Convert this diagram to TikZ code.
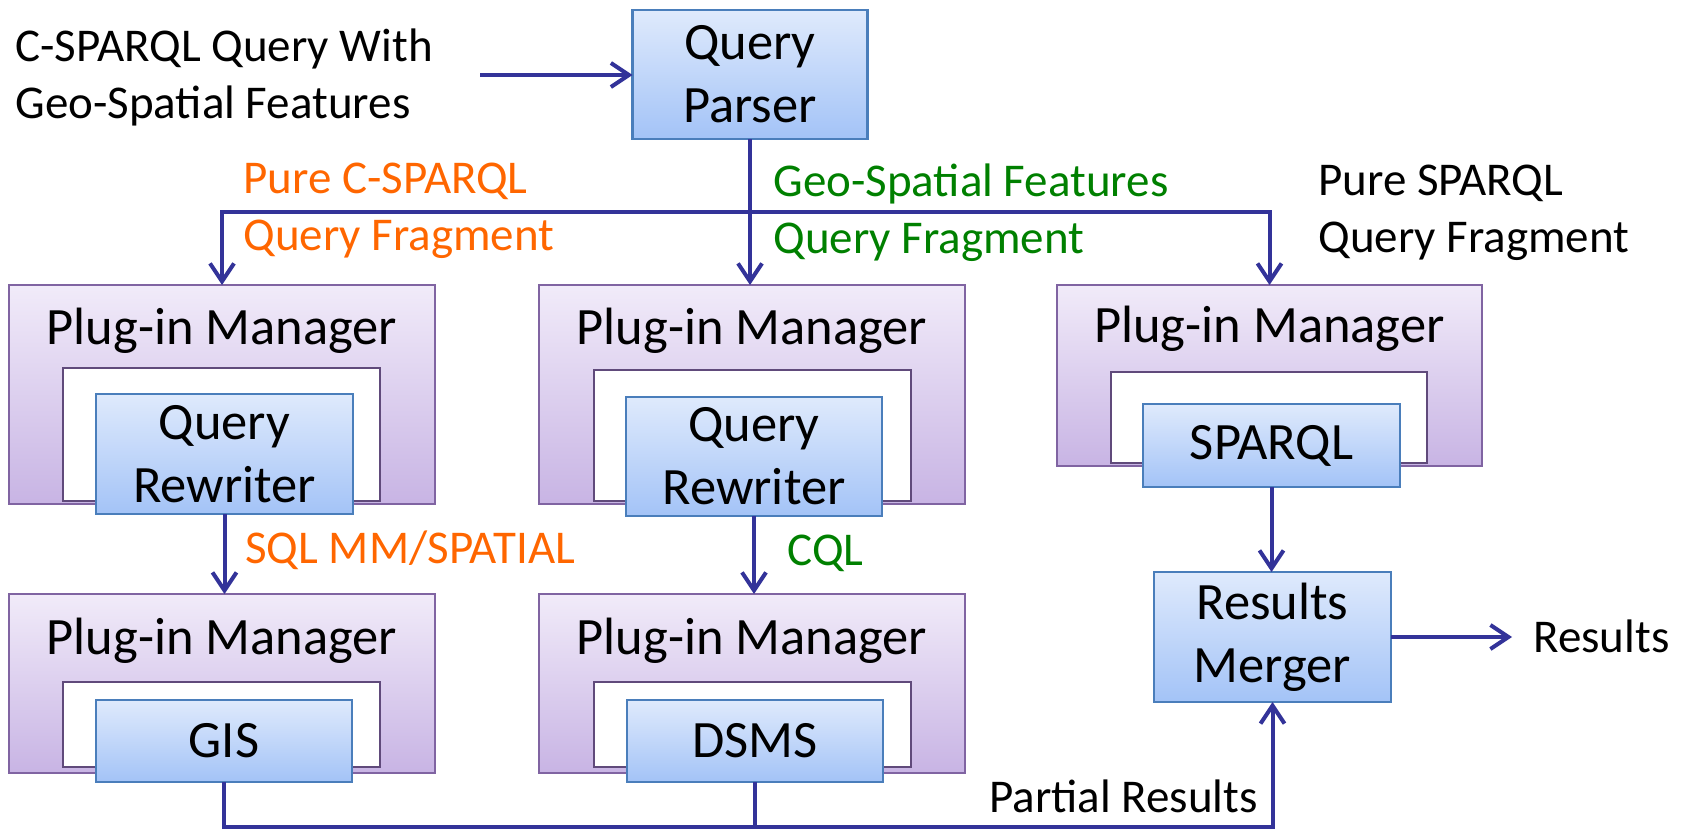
\documentclass[tikz,border=0pt]{standalone}
\usepackage{fontspec}
\setmainfont{Carlito}
\usetikzlibrary{arrows.meta}
\definecolor{arrowc}{RGB}{51,51,153}
\definecolor{blueTop}{RGB}{223,234,252}
\definecolor{blueBot}{RGB}{163,195,247}
\definecolor{blueBorder}{RGB}{74,126,187}
\definecolor{pmTop}{RGB}{241,235,249}
\definecolor{pmBot}{RGB}{200,180,228}
\definecolor{pmBorder}{RGB}{128,100,162}
\definecolor{frameBorder}{RGB}{96,74,123}
\definecolor{orangec}{RGB}{255,102,0}
\definecolor{greenc}{RGB}{0,128,0}
\begin{document}
\begin{tikzpicture}[x=0.5pt,y=-0.5pt,
  boxtxt/.style={font=\fontsize{26.25pt}{31.5pt}\selectfont, align=center},
  lbl/.style={font=\fontsize{23.5pt}{28.5pt}\selectfont, align=left, inner sep=0pt},
  bluebox/.style 2 args={draw=blueBorder, line width=1.2pt, top color=blueTop, bottom color=blueBot,
    minimum width=#1*0.5pt, minimum height=#2*0.5pt, inner sep=0pt, outer sep=0pt, boxtxt},
  pmbox/.style 2 args={draw=pmBorder, line width=1pt, top color=pmTop, bottom color=pmBot,
    minimum width=#1*0.5pt, minimum height=#2*0.5pt, inner sep=0pt, outer sep=0pt},
  innerframe/.style 2 args={draw=frameBorder, line width=1.3pt, fill=white,
    minimum width=#1*0.5pt, minimum height=#2*0.5pt, inner sep=0pt, outer sep=0pt},
  conn/.style={draw=arrowc, line width=2pt},
  arr/.style={draw=arrowc, line width=2pt, -{Straight Barb[length=9pt,width=12pt]}}
]
\useasboundingbox (0,0) rectangle (1685,830);

% Query parser
\node[bluebox={235}{129}] (parser) at (750,74.5) {Query\\Parser};

% Row 1
\node[pmbox={426}{219}] (pm1l) at (222,394.5) {};
\node[innerframe={317}{133}] (fr1l) at (221.5,434.5) {};
\node[bluebox={257}{120}] (qr1l) at (224.5,454) {Query\\Rewriter};
\node[boxtxt, anchor=base] (pm1lt) at (222,344) {Plug-in Manager};

\node[pmbox={426}{219}] (pm1m) at (752,394.5) {};
\node[innerframe={317}{131}] (fr1m) at (752.5,435.5) {};
\node[bluebox={256}{119}] (qr1m) at (754,456.5) {Query\\Rewriter};
\node[boxtxt, anchor=base] (pm1mt) at (752,344) {Plug-in Manager};

\node[pmbox={425}{181}] (pm1r) at (1269.5,375.5) {};
\node[innerframe={316}{91}] (fr1r) at (1269,417.5) {};
\node[bluebox={257}{83}] (sparql) at (1271.5,445.5) {SPARQL};
\node[boxtxt, anchor=base] (pm1rt) at (1269.5,342) {Plug-in Manager};

% Row 2
\node[pmbox={426}{179}] (pm2l) at (222,683.5) {};
\node[innerframe={317}{85}] (fr2l) at (221.5,724.5) {};
\node[bluebox={256}{82}] (gis) at (224,741) {GIS};
\node[boxtxt, anchor=base] (pm2lt) at (222,654) {Plug-in Manager};

\node[pmbox={426}{179}] (pm2m) at (752,683.5) {};
\node[innerframe={317}{85}] (fr2m) at (752.5,724.5) {};
\node[bluebox={256}{82}] (dsms) at (755,741) {DSMS};
\node[boxtxt, anchor=base] (pm2mt) at (752,654) {Plug-in Manager};

% Results merger
\node[bluebox={237}{130}] (rm) at (1272.5,637) {Results\\Merger};

% Labels (base anchor = baseline of the last line)
\node[lbl, anchor=base west] (input) at (15,118) {C-SPARQL Query With\\Geo-Spatial Features};
\node[lbl, text=orangec, anchor=base west] (lblpure) at (243,250) {Pure C-SPARQL\\Query Fragment};
\node[lbl, text=greenc, anchor=base west] (lblgeo) at (773,253) {Geo-Spatial Features\\Query Fragment};
\node[lbl, anchor=base west] (lblsparql) at (1318,252) {Pure SPARQL\\Query Fragment};
\node[lbl, text=orangec, anchor=base west] (lblsql) at (245,563) {SQL MM/SPATIAL};
\node[lbl, text=greenc, anchor=base west] (lblcql) at (787,565) {CQL};
\node[lbl, anchor=base west] (lblres) at (1533,652) {Results};
\node[lbl, anchor=base east] (lblpart) at (1258,812) {Partial Results};

% Coordinates
\coordinate (inStart) at (480,75);
\coordinate (split) at (750,212);
\coordinate (outEnd) at (1512,637);
\coordinate (bot) at (0,827);

% Connectors
\draw[arr] (inStart) -- (inStart -| parser.west);
\draw[conn] (parser.south) -- (split);
\draw[arr] (split) -| (pm1l.north);
\draw[arr] (split) -- (split |- pm1m.north);
\draw[arr] (split) -| (pm1r.north);
\draw[arr] (qr1l.south) -- (qr1l.south |- pm2l.north);
\draw[arr] (qr1m.south) -- (qr1m.south |- pm2m.north);
\draw[arr] (sparql.south) -- (sparql.south |- rm.north);
\draw[arr] (rm.east) -- (outEnd);
\draw[arr] (gis.south) |- (rm.south |- bot) -- (rm.south);
\draw[conn] (dsms.south) -- (dsms.south |- bot);
\end{tikzpicture}
\end{document}
